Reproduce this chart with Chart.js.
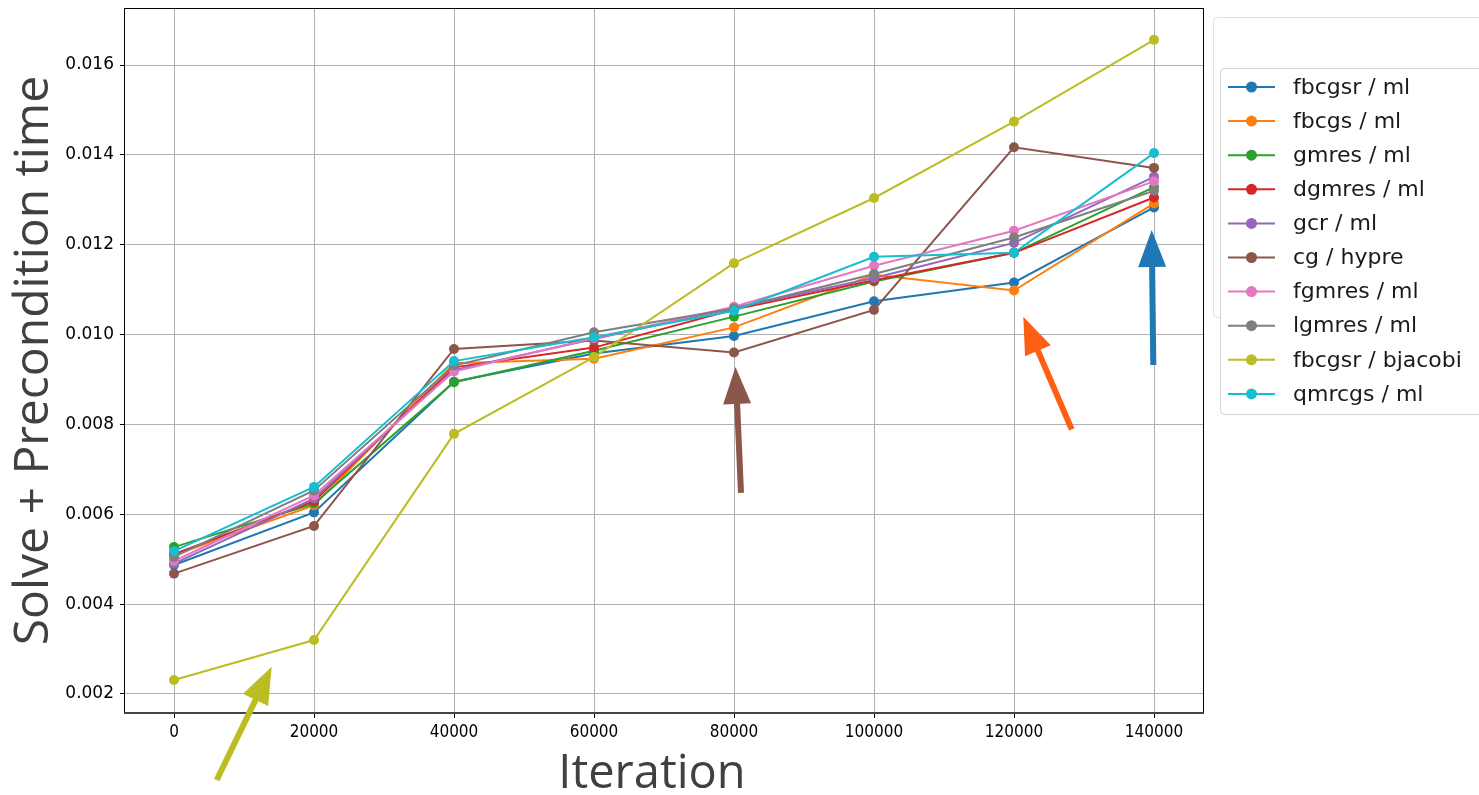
<!DOCTYPE html>
<html>
<head>
<meta charset="utf-8">
<script src="https://cdn.jsdelivr.net/npm/chart.js@4.4.1/dist/chart.umd.min.js"></script>
<style>
  html, body { margin: 0; padding: 0; background: #fff; }
  #wrap { width: 1479px; height: 795px; }
</style>
</head>
<body>
<div id="wrap"><canvas id="timePlot" width="1479" height="795"></canvas></div>
<script>
// x positions and axis ticks
const iterations = [0, 20000, 40000, 60000, 80000, 100000, 120000, 140000];
const xTicks = [0, 20000, 40000, 60000, 80000, 100000, 120000, 140000];
const yTicks = [0.002, 0.004, 0.006, 0.008, 0.010, 0.012, 0.014, 0.016];

const seriesLabels = [
    'fbcgsr / ml', 'fbcgs / ml', 'gmres / ml', 'dgmres / ml', 'gcr / ml',
    'cg / hypre', 'fgmres / ml', 'lgmres / ml', 'fbcgsr / bjacobi', 'qmrcgs / ml'
];
const seriesColors = [
    '#1f77b4', '#ff7f0e', '#2ca02c', '#d62728', '#9467bd',
    '#8c564b', '#e377c2', '#7f7f7f', '#bcbd22', '#17becf'
];

// solve + precondition time per solver
const fbcgsrMl      = [0.00487, 0.00604, 0.00895, 0.00958, 0.00997, 0.01074, 0.01116, 0.01283];
const fbcgsMl       = [0.00509, 0.00620, 0.00936, 0.00946, 0.01016, 0.01133, 0.01098, 0.01292];
const gmresMl       = [0.00527, 0.00624, 0.00894, 0.00964, 0.01040, 0.01118, 0.01182, 0.01328];
const dgmresMl      = [0.00511, 0.00629, 0.00927, 0.00971, 0.01056, 0.01121, 0.01182, 0.01305];
const gcrMl         = [0.00490, 0.00635, 0.00921, 0.00990, 0.01059, 0.01126, 0.01204, 0.01351];
const cgHypre       = [0.00468, 0.00574, 0.00968, 0.00987, 0.00960, 0.01055, 0.01417, 0.01371];
const fgmresMl      = [0.00496, 0.00642, 0.00918, 0.00992, 0.01062, 0.01153, 0.01231, 0.01341];
const lgmresMl      = [0.00505, 0.00653, 0.00931, 0.01005, 0.01058, 0.01135, 0.01216, 0.01320];
const fbcgsrBjacobi = [0.00231, 0.00320, 0.00779, 0.00950, 0.01159, 0.01304, 0.01474, 0.01656];
const qmrcgsMl      = [0.00518, 0.00661, 0.00941, 0.00994, 0.01053, 0.01173, 0.01182, 0.01404];

const seriesValues = [fbcgsrMl, fbcgsMl, gmresMl, dgmresMl, gcrMl,
    cgHypre, fgmresMl, lgmresMl, fbcgsrBjacobi, qmrcgsMl];

// annotation arrows (data units: [iteration, time])
const arrowTails  = [[6100, 0.000086], [81000, 0.006474], [128243, 0.007891], [139900, 0.009323]];
const arrowHeads  = [[13957, 0.002608], [80214, 0.009278], [121329, 0.010398], [139671, 0.012327]];
const arrowColors = ['#bcbd22', '#8c564b', '#ff5f15', '#1f77b4'];

const tickFont = "'DejaVu Sans', sans-serif";
const titleFont = "'Open Sans', 'Noto Sans', sans-serif";

// frame around the plot area (matplotlib spines)
const framePlugin = {
    id: 'framePlugin',
    afterDatasetsDraw: (chart) => {
        const {ctx, chartArea: {top, bottom, left, right}} = chart;
        ctx.save();
        ctx.strokeStyle = '#000';
        ctx.lineWidth = 1;
        ctx.strokeRect(Math.round(left) - 0.5, Math.round(top) + 0.5,
            Math.round(right - left) + 1, Math.round(bottom - top));
        ctx.strokeStyle = '#444';
        ctx.lineWidth = 2;
        ctx.beginPath();
        ctx.moveTo(left - 1, Math.round(bottom));
        ctx.lineTo(right + 1, Math.round(bottom));
        ctx.stroke();
        ctx.restore();
    }
};

// x axis title, a bit left of centre like the original
const xTitlePlugin = {
    id: 'xTitlePlugin',
    afterDraw: (chart) => {
        const {ctx, chartArea: {left, right}} = chart;
        ctx.save();
        ctx.font = '47px ' + titleFont;
        ctx.fillStyle = '#404040';
        ctx.textAlign = 'center';
        ctx.textBaseline = 'alphabetic';
        ctx.fillText('Iteration', (left + right) / 2 - 12, 788);
        ctx.restore();
    }
};

// legend box outside the axes on the right
const legendPlugin = {
    id: 'legendPlugin',
    afterDraw: (chart) => {
        const {ctx} = chart;
        const right = chart.chartArea.right;
        ctx.save();

        // faint frame of an older legend behind
        ctx.strokeStyle = '#e2e2e2';
        ctx.lineWidth = 1;
        ctx.beginPath();
        ctx.roundRect(right + 10.5, 17.5, 300, 300, 4);
        ctx.stroke();

        ctx.fillStyle = '#fff';
        ctx.strokeStyle = '#d4d4d4';
        ctx.beginPath();
        ctx.roundRect(right + 17.5, 68.5, 300, 346, 4);
        ctx.fill();
        ctx.stroke();

        ctx.font = '22px ' + tickFont;
        ctx.textBaseline = 'middle';
        ctx.textAlign = 'left';
        chart.data.datasets.forEach((ds, i) => {
            const y = 87 + i * 34.1;
            ctx.strokeStyle = ds.borderColor;
            ctx.lineWidth = 2;
            ctx.beginPath();
            ctx.moveTo(right + 25, y);
            ctx.lineTo(right + 72, y);
            ctx.stroke();
            ctx.fillStyle = ds.borderColor;
            ctx.beginPath();
            ctx.arc(right + 48.5, y, 5.5, 0, Math.PI * 2);
            ctx.fill();
            ctx.fillStyle = '#1a1a1a';
            ctx.fillText(ds.label, right + 90, y + 1);
        });
        ctx.restore();
    }
};

// hand-drawn style arrows pointing at interesting points
const arrowPlugin = {
    id: 'arrowPlugin',
    afterDraw: (chart) => {
        const {ctx, scales: {x, y}} = chart;
        ctx.save();
        arrowTails.forEach((tail, i) => {
            const x0 = x.getPixelForValue(tail[0]);
            const y0 = y.getPixelForValue(tail[1]);
            const x1 = x.getPixelForValue(arrowHeads[i][0]);
            const y1 = y.getPixelForValue(arrowHeads[i][1]);
            const len = Math.hypot(x1 - x0, y1 - y0);
            const ux = (x1 - x0) / len, uy = (y1 - y0) / len;
            const headLen = 37, headW = 14;
            const bx = x1 - ux * headLen, by = y1 - uy * headLen;

            ctx.strokeStyle = arrowColors[i];
            ctx.fillStyle = arrowColors[i];
            ctx.lineWidth = 6;
            ctx.lineCap = 'butt';
            ctx.beginPath();
            ctx.moveTo(x0, y0);
            ctx.lineTo(bx + ux * 2, by + uy * 2);
            ctx.stroke();

            ctx.beginPath();
            ctx.moveTo(x1, y1);
            ctx.lineTo(bx - uy * headW, by + ux * headW);
            ctx.lineTo(bx + uy * headW, by - ux * headW);
            ctx.closePath();
            ctx.fill();
        });
        ctx.restore();
    }
};

const ctx = document.getElementById('timePlot').getContext('2d');

const timeChart = new Chart(ctx, {
    type: 'line',
    data: {
        datasets: seriesLabels.map((label, i) => ({
            label: label,
            data: iterations.map((it, j) => ({x: it, y: seriesValues[i][j]})),
            borderColor: seriesColors[i],
            backgroundColor: seriesColors[i],
            pointBackgroundColor: seriesColors[i],
            pointBorderWidth: 0,
            pointRadius: 5,
            borderWidth: 2,
            tension: 0,
            fill: false,
            order: seriesLabels.length - i
        }))
    },
    options: {
        responsive: false,
        animation: false,
        layout: {
            padding: {top: 0, right: 276, left: 0, bottom: 0}
        },
        plugins: {
            legend: {display: false},
            tooltip: {enabled: false}
        },
        scales: {
            x: {
                type: 'linear',
                min: -7000,
                max: 147000,
                afterBuildTicks: (scale) => {
                    scale.ticks = xTicks.map(v => ({value: v}));
                },
                afterFit: (scale) => {
                    scale.height = 82;
                },
                ticks: {
                    color: '#000',
                    font: {family: "'Liberation Sans Narrow', 'DejaVu Sans Condensed', 'DejaVu Sans', sans-serif", size: 17},
                    padding: 4,
                    maxRotation: 0,
                    callback: (value) => String(value)
                },
                grid: {
                    color: '#b0b0b0',
                    lineWidth: 1,
                    tickColor: '#000',
                    tickLength: 5
                },
                border: {display: false}
            },
            y: {
                type: 'linear',
                min: 0.001577,
                max: 0.017269,
                afterBuildTicks: (scale) => {
                    scale.ticks = yTicks.map(v => ({value: v}));
                },
                afterFit: (scale) => {
                    scale.width = 125;
                    scale.paddingTop = 8;
                },
                ticks: {
                    color: '#000',
                    font: {family: tickFont, size: 17},
                    padding: 6,
                    callback: (value) => value.toFixed(3)
                },
                grid: {
                    color: '#b0b0b0',
                    lineWidth: 1,
                    tickColor: '#000',
                    tickLength: 5
                },
                border: {display: false},
                title: {
                    display: true,
                    text: 'Solve + Precondition time',
                    color: '#404040',
                    font: {family: titleFont, size: 48, lineHeight: 1},
                    padding: {top: 10, bottom: 0}
                }
            }
        }
    },
    plugins: [framePlugin, xTitlePlugin, legendPlugin, arrowPlugin]
});
</script>
</body>
</html>
